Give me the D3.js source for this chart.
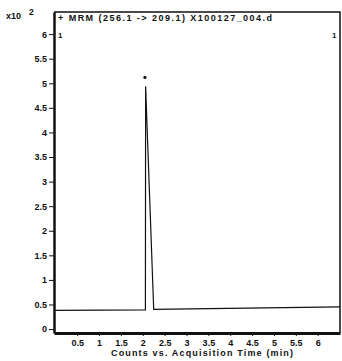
<!DOCTYPE html>
<html>
<head>
<meta charset="utf-8">
<script src="https://cdn.jsdelivr.net/npm/d3@7"></script>
<style>
  body { margin: 0; background: #fff; }
  text { font-family: "Liberation Sans", Arial, sans-serif; font-weight: bold; fill: #111; }
</style>
</head>
<body>
<div class="chart"></div>
<script>
var svgWidth = 342;
var svgHeight = 361;

// chromatogram trace (min, counts x10^2)
var times = [0, 2.06, 2.065, 2.25, 6.51];
var counts = [0.38, 0.39, 4.94, 0.40, 0.45];

var peakTime = 2.05;
var peakMark = 5.12;

var xTicks = [0.5, 1, 1.5, 2, 2.5, 3, 3.5, 4, 4.5, 5, 5.5, 6];
var yTicks = [0, 0.5, 1, 1.5, 2, 2.5, 3, 3.5, 4, 4.5, 5, 5.5, 6];

var titleText = "+ MRM (256.1 -> 209.1) X100127_004.d";
var xLabelText = "Counts vs. Acquisition Time (min)";

var margin = { top: 12, right: 2, bottom: 28, left: 54 };
var chartWidth = svgWidth - margin.left - margin.right;
var chartHeight = svgHeight - margin.top - margin.bottom;

var svg = d3.select(".chart")
  .append("svg")
  .attr("width", svgWidth)
  .attr("height", svgHeight);

var chartGroup = svg.append("g")
  .attr("transform", `translate(${margin.left}, ${margin.top})`);

var xScale = d3.scaleLinear()
  .domain([-0.03, 6.51])
  .range([0, chartWidth]);

var yScale = d3.scaleLinear()
  .domain([-0.08, 6.45])
  .range([chartHeight, 0]);

var fmt = d3.format("~g");

var bottomAxis = d3.axisBottom(xScale).tickValues(xTicks).tickFormat(fmt).tickSize(3).tickSizeOuter(0);
var leftAxis = d3.axisLeft(yScale).tickValues(yTicks).tickFormat(fmt).tickSize(5).tickSizeOuter(0);

// thin frame on top and right
chartGroup.append("path")
  .attr("d", `M0,0H${chartWidth}V${chartHeight}`)
  .attr("fill", "none")
  .attr("stroke", "#111")
  .attr("stroke-width", 1.5);

var xAxis = chartGroup.append("g")
  .attr("transform", `translate(0, ${chartHeight})`)
  .call(bottomAxis);
xAxis.select(".domain").attr("stroke", "#111").attr("stroke-width", 3);
xAxis.selectAll(".tick line").attr("stroke", "#111");
xAxis.selectAll(".tick text").attr("font-size", 9).attr("dy", "0.75em");

var yAxis = chartGroup.append("g").call(leftAxis);
yAxis.select(".domain").attr("stroke", "#111").attr("stroke-width", 2.5);
yAxis.selectAll(".tick line").attr("stroke", "#111");
yAxis.selectAll(".tick text").attr("font-size", 9).attr("x", -7);

// trace
var line = d3.line()
  .x((d, i) => xScale(times[i]))
  .y(d => yScale(d));

chartGroup.append("path")
  .datum(counts)
  .attr("d", line)
  .attr("fill", "none")
  .attr("stroke", "#111")
  .attr("stroke-width", 1.2);

chartGroup.append("circle")
  .attr("cx", xScale(peakTime))
  .attr("cy", yScale(peakMark))
  .attr("r", 1.6)
  .attr("fill", "#111");

// labels
chartGroup.append("text")
  .attr("x", 4)
  .attr("y", 9)
  .attr("font-size", 9)
  .attr("textLength", 214)
  .text(titleText);

chartGroup.append("text")
  .attr("x", 4)
  .attr("y", 26)
  .attr("font-size", 8)
  .text("1");

chartGroup.append("text")
  .attr("x", chartWidth - 8)
  .attr("y", 26)
  .attr("font-size", 8)
  .text("1");

svg.append("text")
  .attr("x", 6)
  .attr("y", 19)
  .attr("font-size", 9)
  .text("x10");

svg.append("text")
  .attr("x", 29)
  .attr("y", 15)
  .attr("font-size", 8.5)
  .text("2");

svg.append("text")
  .attr("x", 111)
  .attr("y", 356)
  .attr("font-size", 9)
  .attr("textLength", 182)
  .text(xLabelText);
</script>
</body>
</html>
